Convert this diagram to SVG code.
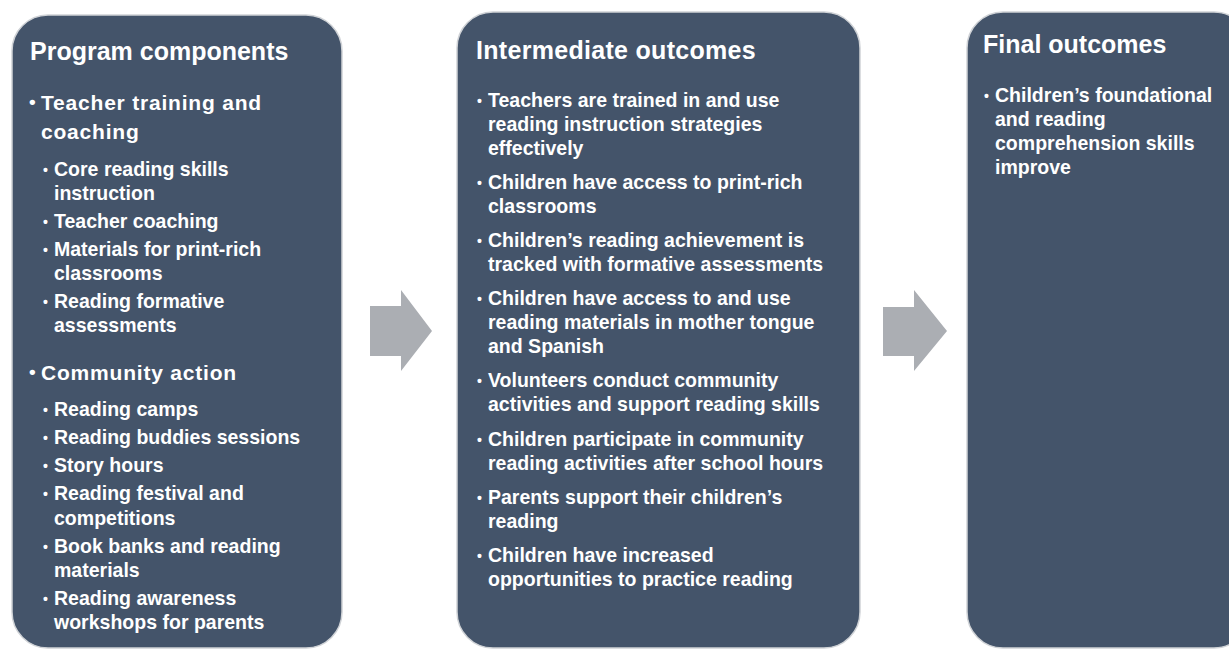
<svg xmlns="http://www.w3.org/2000/svg" width="1229" height="650" viewBox="0 0 1229 650">
  <style>
    .panel { fill: #44546A; stroke: #cfd2d6; stroke-width: 1.5; }
    .flow { fill: #ABAEB3; }
    .title { font-family: "Liberation Sans", Arial, sans-serif; font-weight: bold; font-size: 25px; fill: #ffffff; }
    .head { font-family: "Liberation Sans", Arial, sans-serif; font-weight: bold; font-size: 21px; letter-spacing: 0.8px; fill: #ffffff; }
    .item { font-family: "Liberation Sans", Arial, sans-serif; font-weight: bold; font-size: 21px; fill: #ffffff; }
    .dot { font-family: "Liberation Sans", Arial, sans-serif; font-weight: bold; font-size: 14px; fill: #ffffff; }
    .bigdot { font-family: "Liberation Sans", Arial, sans-serif; font-weight: bold; font-size: 19px; fill: #ffffff; }
  </style>

  <!-- connectors: block arrows between the columns -->
  <g id="connectors">
    <polygon class="flow" points="370,306 401,306 401,290 432,331 401,371 401,356 370,356"/>
    <polygon class="flow" points="883,307 914,307 914,290 947,331 914,371 914,356 883,356"/>
  </g>

  <!-- column 1: program components -->
  <g id="program-components">
    <rect class="panel" x="12" y="15" width="330" height="633" rx="36" ry="36"/>
    <text class="title" x="30" y="60">Program components</text>
    <text class="bigdot" x="29" y="108">•</text>
    <text class="head" x="41" y="110">Teacher training and</text>
    <text class="head" x="41" y="139">coaching</text>
    <text class="bigdot" x="29" y="378">•</text>
    <text class="head" x="41" y="380">Community action</text>
    <g class="dot">
      <text x="43" y="175">•</text>
      <text x="43" y="227">•</text>
      <text x="43" y="255">•</text>
      <text x="43" y="307">•</text>
      <text x="43" y="415">•</text>
      <text x="43" y="443">•</text>
      <text x="43" y="471">•</text>
      <text x="43" y="499">•</text>
      <text x="43" y="552">•</text>
      <text x="43" y="604">•</text>
    </g>
    <!-- narrow-set body lines -->
    <g class="item" transform="translate(54 0) scale(0.93 1)">
      <text x="0" y="176">Core reading skills</text>
      <text x="0" y="200">instruction</text>
      <text x="0" y="228">Teacher coaching</text>
      <text x="0" y="256">Materials for print-rich</text>
      <text x="0" y="280">classrooms</text>
      <text x="0" y="308">Reading formative</text>
      <text x="0" y="332">assessments</text>
      <text x="0" y="416">Reading camps</text>
      <text x="0" y="444">Reading buddies sessions</text>
      <text x="0" y="472">Story hours</text>
      <text x="0" y="500">Reading festival and</text>
      <text x="0" y="525">competitions</text>
      <text x="0" y="553">Book banks and reading</text>
      <text x="0" y="577">materials</text>
      <text x="0" y="605">Reading awareness</text>
      <text x="0" y="629">workshops for parents</text>
    </g>
  </g>

  <!-- column 2: intermediate outcomes -->
  <g id="intermediate-outcomes">
    <rect class="panel" x="457" y="12" width="403" height="636" rx="36" ry="36"/>
    <text class="title" x="476" y="59" style="letter-spacing:0.3px">Intermediate outcomes</text>
    <g class="dot">
      <text x="477" y="106">•</text>
      <text x="477" y="188">•</text>
      <text x="477" y="246">•</text>
      <text x="477" y="304">•</text>
      <text x="477" y="386">•</text>
      <text x="477" y="445">•</text>
      <text x="477" y="503">•</text>
      <text x="477" y="561">•</text>
    </g>
    <g class="item" transform="translate(488 0) scale(0.93 1)">
      <text x="0" y="107">Teachers are trained in and use</text>
      <text x="0" y="131">reading instruction strategies</text>
      <text x="0" y="155">effectively</text>
      <text x="0" y="189">Children have access to print-rich</text>
      <text x="0" y="213">classrooms</text>
      <text x="0" y="247">Children’s reading achievement is</text>
      <text x="0" y="271">tracked with formative assessments</text>
      <text x="0" y="305">Children have access to and use</text>
      <text x="0" y="329">reading materials in mother tongue</text>
      <text x="0" y="353">and Spanish</text>
      <text x="0" y="387">Volunteers conduct community</text>
      <text x="0" y="411">activities and support reading skills</text>
      <text x="0" y="446">Children participate in community</text>
      <text x="0" y="470">reading activities after school hours</text>
      <text x="0" y="504">Parents support their children’s</text>
      <text x="0" y="528">reading</text>
      <text x="0" y="562">Children have increased</text>
      <text x="0" y="586">opportunities to practice reading</text>
    </g>
  </g>

  <!-- column 3: final outcomes -->
  <g id="final-outcomes">
    <rect class="panel" x="967" y="12" width="283" height="636" rx="36" ry="36"/>
    <text class="title" x="983" y="53">Final outcomes</text>
    <text class="dot" x="984" y="101">•</text>
    <g class="item" transform="translate(995 0) scale(0.93 1)">
      <text x="0" y="102">Children’s foundational</text>
      <text x="0" y="126">and reading</text>
      <text x="0" y="150">comprehension skills</text>
      <text x="0" y="174">improve</text>
    </g>
  </g>
</svg>
